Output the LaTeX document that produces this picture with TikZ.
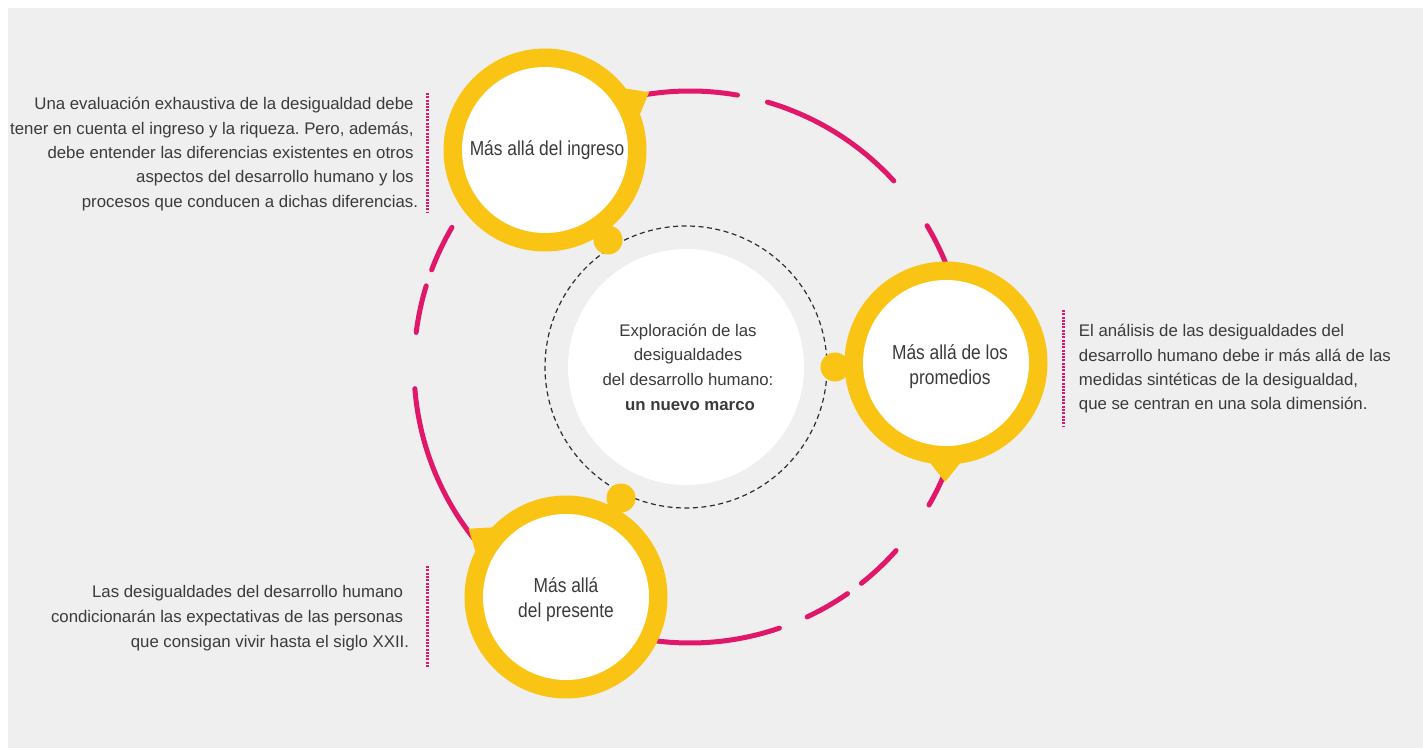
\documentclass[tikz,border=0pt]{standalone}
\usepackage{fontspec}
\setmainfont{Liberation Sans}
\newfontfamily\condfont{Liberation Sans}[FakeStretch=0.86]
\definecolor{bggray}{HTML}{EFEFEF}
\definecolor{ringyellow}{HTML}{FAC414}
\definecolor{arcpink}{HTML}{E1186A}
\definecolor{txtgray}{HTML}{3B3B3B}
\definecolor{dashgray}{HTML}{2E2E2E}
\frenchspacing
\begin{document}
\begin{tikzpicture}[x=0.5pt,y=0.5pt,
  pinkarc/.style={draw=arcpink, line width=2.5pt, line cap=round},
  dotline/.style={draw=arcpink, line width=1.25pt, dash pattern=on 1pt off 0.65pt},
  innerdisk/.style={circle, fill=white, minimum size=83pt, inner sep=0pt, outer sep=0pt},
  ydot/.style={circle, fill=ringyellow, minimum size=14.5pt, inner sep=0pt},
  bodytext/.style={text=txtgray, inner sep=0pt, font=\fontsize{8.4}{12.2}\selectfont},
  circtext/.style={text=txtgray, inner sep=0pt, font=\condfont\fontsize{10.1}{12.5}\selectfont},
]
\useasboundingbox (0,0) rectangle (1423,-748);
\fill[bggray] (8,-8) rectangle (1423,-748);

% centres
\coordinate (P) at (690,-367);
\coordinate (Tc) at (545,-150);
\coordinate (Rc) at (946,-363);
\coordinate (Bc) at (566,-597);

% pink dashed ring
\draw[pinkarc] ([shift={(80.1:276)}]P) arc[start angle=80.1, end angle=140, radius=276];
\draw[pinkarc] ([shift={(42.4:276)}]P) arc[start angle=42.4, end angle=73.7, radius=276];
\draw[pinkarc] ([shift={(-30:276)}]P) arc[start angle=-30, end angle=30.8, radius=276];
\draw[pinkarc] ([shift={(-51.6:276)}]P) arc[start angle=-51.6, end angle=-41.7, radius=276];
\draw[pinkarc] ([shift={(-64.9:276)}]P) arc[start angle=-64.9, end angle=-55.2, radius=276];
\draw[pinkarc] ([shift={(184.5:276)}]P) arc[start angle=184.5, end angle=288.9, radius=276];
\draw[pinkarc] ([shift={(162.9:276)}]P) arc[start angle=162.9, end angle=172.8, radius=276];
\draw[pinkarc] ([shift={(149.6:276)}]P) arc[start angle=149.6, end angle=159.4, radius=276];

% central circle
\node[circle, draw=dashgray, line width=0.6pt, dash pattern=on 2.5pt off 1.75pt, minimum size=141pt, inner sep=0pt] (Dd) at (686,-367) {};
\node[circle, fill=white, minimum size=118pt, inner sep=0pt] (D) at (686,-367) {};

% pointers
\fill[ringyellow] ([shift={(39.5:98)}]Tc) -- ([shift={(29:119)}]Tc) -- ([shift={(18.5:98)}]Tc) -- cycle;
\fill[ringyellow] ([shift={(-80:98)}]Rc) -- ([shift={(-90.5:119)}]Rc) -- ([shift={(-101:98)}]Rc) -- cycle;
\fill[ringyellow] ([shift={(134.5:98)}]Bc) -- ([shift={(145:119)}]Bc) -- ([shift={(155.5:98)}]Bc) -- cycle;

% dots
\node[ydot] (dT) at (608,-240) {};
\node[ydot] (dR) at (835,-367) {};
\node[ydot] (dB) at (621,-498) {};

% rings
\fill[ringyellow] (Tc) circle[radius=101.5];
\fill[ringyellow] (Rc) circle[radius=101.5];
\fill[ringyellow] (Bc) circle[radius=101.5];
\node[innerdisk] (T) at (Tc) {};
\node[innerdisk] (R) at (Rc) {};
\node[innerdisk] (B) at (Bc) {};

% circle texts
\node[circtext, anchor=base] (Tt) at (547,-155.7) {Más allá del ingreso};
\node[circtext, anchor=base] (Rt1) at (950,-360) {Más allá de los};
\node[circtext, anchor=base] (Rt2) at (950,-385) {promedios};
\node[circtext, anchor=base] (Bt1) at (566,-592.7) {Más allá};
\node[circtext, anchor=base] (Bt2) at (566,-617.7) {del presente};

% centre text
\node[bodytext, anchor=base] (c1) at (688,-336) {Exploración de las};
\node[bodytext, anchor=base] (c2) at (688,-360.7) {desigualdades};
\node[bodytext, anchor=base] (c3) at (688,-385.3) {del desarrollo humano:};
\node[bodytext, anchor=base] (c4) at (690,-410) {\textbf{un nuevo marco}};

% left top text
\foreach \txt [count=\i] in {{Una evaluación exhaustiva de la desigualdad debe},{tener en cuenta el ingreso y la riqueza. Pero, además,},{debe entender las diferencias existentes en otros},{aspectos del desarrollo humano y los}}
  \node[bodytext, anchor=base east] (lt\i) at (414, {-110-(\i-1)*24.3}) {\txt};
\node[bodytext, anchor=base east] (lt5) at (418.5,-207.2) {procesos que conducen a dichas diferencias.};
\draw[dotline] (427.3,-93) -- (427.3,-212);

% right text
\foreach \txt [count=\i] in {{El análisis de las desigualdades del},{desarrollo humano debe ir más allá de las},{medidas sintéticas de la desigualdad,},{que se centran en una sola dimensión.}}
  \node[bodytext, anchor=base west] (rt\i) at (1078.5, {-336.7-(\i-1)*24.4}) {\txt};
\draw[dotline] (1063.3,-310) -- (1063.3,-427);

% bottom left text
\node[bodytext, anchor=base east] (bt1) at (403.5,-597.7) {Las desigualdades del desarrollo humano};
\node[bodytext, anchor=base east] (bt2) at (403.5,-622.5) {condicionarán las expectativas de las personas};
\node[bodytext, anchor=base east] (bt3) at (409.5,-647.3) {que consigan vivir hasta el siglo XXII.};
\draw[dotline] (427.3,-566) -- (427.3,-668);
\end{tikzpicture}
\end{document}
